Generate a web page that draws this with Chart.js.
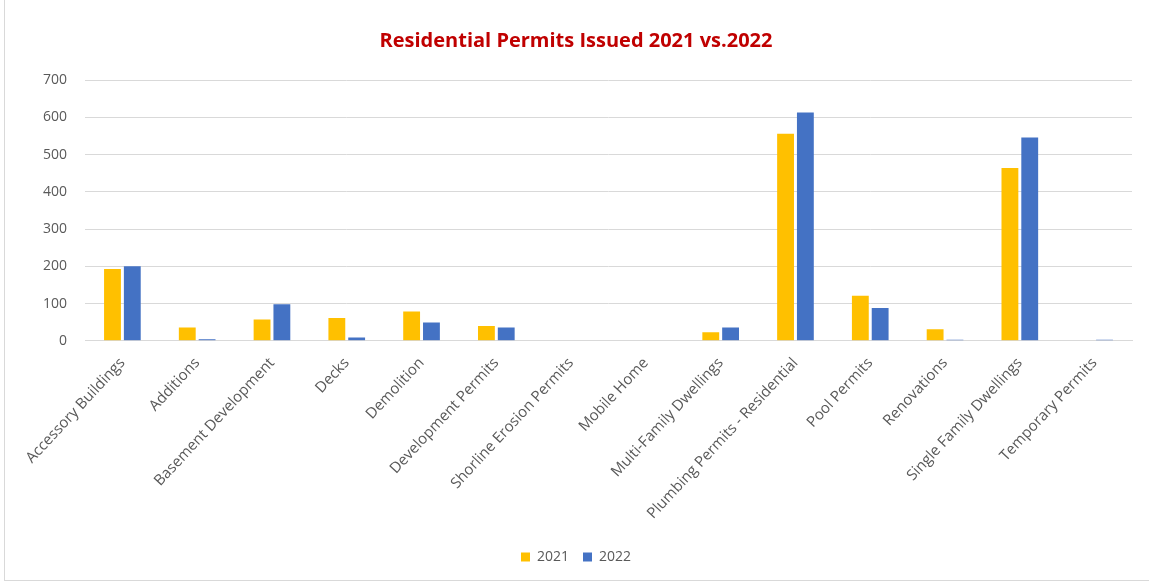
<!DOCTYPE html>
<html>
<head>
<meta charset="utf-8">
<script src="https://cdn.jsdelivr.net/npm/chart.js@4/dist/chart.umd.min.js"></script>
<style>
  html, body { margin: 0; padding: 0; background: #fff; }
  #wrap { position: absolute; left: 4px; top: -2px; width: 1150px; height: 583px; border: 1px solid #d9d9d9; box-sizing: border-box; }
  #box { position: absolute; left: 0; top: 0; width: 1149px; height: 583px; }
</style>
</head>
<body>
<div id="wrap"></div>
<div id="box"><canvas id="c" width="1149" height="583"></canvas></div>
<script>
const categories = [
  "Accessory Buildings", "Additions", "Basement Development", "Decks", "Demolition",
  "Development Permits", "Shorline Erosion Permits", "Mobile Home", "Multi-Family Dwellings",
  "Plumbing Permits - Residential", "Pool Permits", "Renovations", "Single Family Dwellings",
  "Temporary Permits"
];
const values2021 = [193, 36, 57, 61, 79, 40, 0, 0, 23, 556, 121, 31, 464, 0];
const values2022 = [200, 4, 98, 9, 49, 36, 0, 0, 36, 613, 88, 3, 546, 3];
const yTicks = [0, 100, 200, 300, 400, 500, 600, 700];

const fontFam = "'Open Sans', sans-serif";

new Chart(document.getElementById('c'), {
  type: 'bar',
  data: {
    labels: categories,
    datasets: [
      { label: '2021', data: values2021, backgroundColor: '#FFC000', borderWidth: 0 },
      { label: '2022', data: values2022, backgroundColor: '#4472C4', borderWidth: 0 }
    ]
  },
  options: {
    responsive: false,
    animation: false,
    devicePixelRatio: 1,
    layout: { padding: { left: 20, right: 17, top: 0, bottom: 9 } },
    datasets: { bar: { categoryPercentage: 0.53, barPercentage: 0.85 } },
    plugins: {
      title: {
        display: true,
        text: 'Residential Permits Issued 2021 vs.2022',
        color: '#C00000',
        font: { family: fontFam, size: 20, weight: 'bold' },
        padding: { top: 29, bottom: 27 }
      },
      legend: {
        position: 'bottom',
        labels: {
          color: '#595959',
          font: { family: fontFam, size: 14 },
          boxWidth: 9, boxHeight: 9, padding: 14
        }
      },
      tooltip: { enabled: false }
    },
    scales: {
      x: {
        grid: { display: false, drawTicks: false },
        border: { display: true, color: '#d9d9d9' },
        ticks: {
          color: '#595959',
          font: { family: fontFam, size: 15 },
          minRotation: 47, maxRotation: 47, padding: 13.5,
          autoSkip: false
        }
      },
      y: {
        min: 0, max: 700,
        afterBuildTicks: (axis) => { axis.ticks = yTicks.map(v => ({ value: v })); },
        afterFit: (axis) => { axis.width = 65; },
        grid: { color: '#d9d9d9', drawTicks: false },
        border: { display: false },
        ticks: {
          color: '#595959',
          font: { family: fontFam, size: 14 },
          padding: 18
        }
      }
    }
  }
});
</script>
</body>
</html>
